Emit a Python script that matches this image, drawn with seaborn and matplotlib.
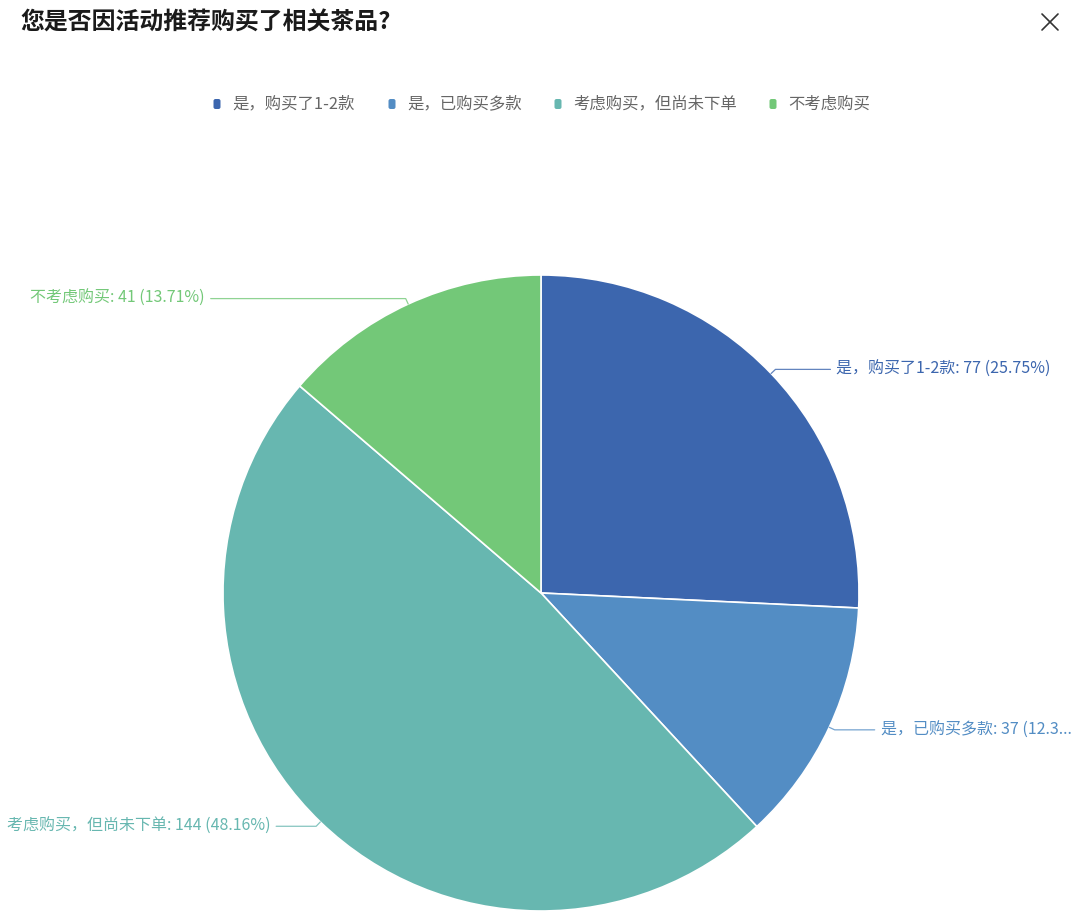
import numpy as np
import matplotlib
matplotlib.use('Agg')
import matplotlib.pyplot as plt
import seaborn as sns
from matplotlib.patches import FancyBboxPatch

sns.set_theme(style='white')
plt.rcParams['font.family'] = ['Noto Sans CJK SC', 'DejaVu Sans']

# 데이터
title = '您是否因活动推荐购买了相关茶品?'
categories = ['是，购买了1-2款', '是，已购买多款', '考虑购买，但尚未下单', '不考虑购买']
counts = [77, 37, 144, 41]
label_texts = ['是，购买了1-2款: 77 (25.75%)', '是，已购买多款: 37 (12.3...',
               '考虑购买，但尚未下单: 144 (48.16%)', '不考虑购买: 41 (13.71%)']
colors = ['#3c66ae', '#538dc4', '#67b7b0', '#73c878']

W, H = 1080, 923
fig = plt.figure(figsize=(W / 100, H / 100), dpi=100)
ax = fig.add_axes([0, 0, 1, 1])

cx, cy, r = 541, H - 593, 318
wedges, _ = ax.pie(counts, colors=colors, startangle=90, counterclock=False,
                   center=(cx, cy), radius=r, frame=True,
                   wedgeprops=dict(edgecolor='white', linewidth=1.2))
ax.set_xlim(0, W)
ax.set_ylim(0, H)
ax.axis('off')

# 라벨 + 리더선
total = sum(counts)
cum = np.cumsum([0] + counts)
seg2 = [55, 40, -40, -195]
for i, w in enumerate(wedges):
    mid = (cum[i] + counts[i] / 2) / total * 2 * np.pi
    x0 = cx + r * np.sin(mid)
    y0 = cy + r * np.cos(mid)
    x1 = cx + (r + 6) * np.sin(mid)
    y1 = cy + (r + 6) * np.cos(mid)
    right = np.sin(mid) > 0
    x2 = x1 + seg2[i]
    ax.plot([x0, x1, x2], [y0, y1, y1], color=colors[i], lw=0.9, alpha=0.8)
    tx = x2 + 6 if right else x2 - 6
    ax.text(tx, y1, label_texts[i], color=colors[i], fontsize=11.5,
            ha='left' if right else 'right', va='center')

# 범례
legend_x = [217, 392, 558, 773]
ly = H - 104
for x, c, name in zip(legend_x, colors, categories):
    ax.add_patch(FancyBboxPatch((x - 3.5, ly - 5), 7, 10, boxstyle='round,pad=0,rounding_size=2',
                                facecolor=c, edgecolor='none'))
    ax.text(x + 15, ly, name, color='#666666', fontsize=11.8, va='center', ha='left')

# 제목
ax.text(20, H - 23, title, fontsize=17.2, fontweight='bold', color='#1a1a1a',
        va='center', ha='left')

# 닫기 버튼
ax.plot([1042, 1058], [H - 14, H - 30], color='#333333', lw=1.2)
ax.plot([1042, 1058], [H - 30, H - 14], color='#333333', lw=1.2)

fig.savefig('out.png', dpi=100, facecolor='white')
